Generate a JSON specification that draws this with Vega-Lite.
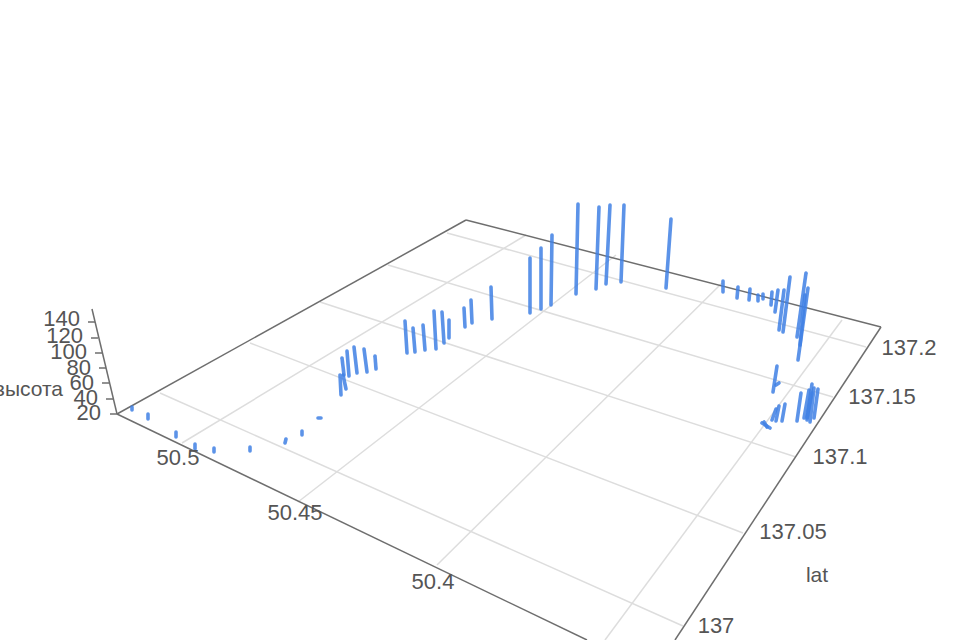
{"$schema":"https://vega.github.io/schema/vega-lite/v6.json","width":960,"height":640,"autosize":{"type":"none"},"padding":0,"background":"white","view":{"stroke":null},"config":{"font":"Liberation Sans"},"datasets":{"grid":[{"x":447,"y":233,"x2":866,"y2":347},{"x":388,"y":265,"x2":833,"y2":397},{"x":320,"y":302,"x2":796,"y2":457},{"x":250,"y":343,"x2":743,"y2":533},{"x":160,"y":393,"x2":683,"y2":626},{"x":182,"y":443,"x2":526,"y2":235},{"x":298,"y":502,"x2":616,"y2":255},{"x":437,"y":565,"x2":722,"y2":283},{"x":605,"y":640,"x2":842,"y2":320}],"axes":[{"x":466,"y":220,"x2":117,"y2":414},{"x":466,"y":220,"x2":881,"y2":327},{"x":117,"y":414,"x2":587,"y2":640},{"x":881,"y":327,"x2":675,"y2":640},{"x":92,"y":309,"x2":117,"y2":414},{"x":88,"y":322,"x2":95,"y2":322},{"x":91,"y":338,"x2":98,"y2":338},{"x":95,"y":353,"x2":102,"y2":353},{"x":99,"y":368,"x2":106,"y2":368},{"x":102,"y":383,"x2":109,"y2":383},{"x":106,"y":399,"x2":113,"y2":399},{"x":110,"y":414,"x2":117,"y2":414}],"bars":[{"x":132,"y":410,"x2":132,"y2":407},{"x":148,"y":414,"x2":148,"y2":419},{"x":176,"y":432,"x2":176,"y2":437},{"x":195,"y":444,"x2":195,"y2":449},{"x":214,"y":448,"x2":214,"y2":452},{"x":250,"y":447,"x2":250,"y2":451},{"x":286,"y":439,"x2":285,"y2":443},{"x":302,"y":431,"x2":302,"y2":435},{"x":318,"y":418,"x2":321,"y2":418},{"x":341,"y":395,"x2":340,"y2":375},{"x":346,"y":389,"x2":343,"y2":375},{"x":344,"y":375,"x2":342,"y2":358},{"x":349,"y":376,"x2":347,"y2":351},{"x":357,"y":373,"x2":354,"y2":347},{"x":367,"y":372,"x2":364,"y2":349},{"x":376,"y":369,"x2":375,"y2":356},{"x":407,"y":353,"x2":405,"y2":321},{"x":415,"y":352,"x2":413,"y2":328},{"x":425,"y":350,"x2":423,"y2":325},{"x":436,"y":349,"x2":434,"y2":311},{"x":444,"y":343,"x2":442,"y2":312},{"x":449,"y":338,"x2":449,"y2":320},{"x":465,"y":327,"x2":464,"y2":308},{"x":472,"y":323,"x2":471,"y2":300},{"x":492,"y":319,"x2":491,"y2":287},{"x":530,"y":313,"x2":530,"y2":258},{"x":541,"y":309,"x2":541,"y2":248},{"x":551,"y":305,"x2":552,"y2":235},{"x":576,"y":294,"x2":578,"y2":204},{"x":596,"y":289,"x2":599,"y2":207},{"x":606,"y":284,"x2":610,"y2":205},{"x":621,"y":282,"x2":624,"y2":205},{"x":666,"y":288,"x2":671,"y2":219},{"x":723,"y":292,"x2":723,"y2":281},{"x":737,"y":298,"x2":738,"y2":287},{"x":749,"y":300,"x2":750,"y2":289},{"x":758,"y":301,"x2":758,"y2":295},{"x":763,"y":299,"x2":763,"y2":294},{"x":771,"y":305,"x2":772,"y2":292},{"x":775,"y":312,"x2":778,"y2":290},{"x":779,"y":330,"x2":784,"y2":290},{"x":783,"y":332,"x2":790,"y2":277},{"x":797,"y":337,"x2":806,"y2":273},{"x":798,"y":360,"x2":808,"y2":288},{"x":800,"y":345,"x2":805,"y2":295},{"x":773,"y":392,"x2":777,"y2":366},{"x":776,"y":385,"x2":779,"y2":383},{"x":764,"y":422,"x2":767,"y2":427},{"x":762,"y":423,"x2":770,"y2":428},{"x":772,"y":420,"x2":776,"y2":409},{"x":776,"y":421,"x2":779,"y2":406},{"x":782,"y":421,"x2":785,"y2":404},{"x":797,"y":421,"x2":801,"y2":393},{"x":804,"y":418,"x2":809,"y2":390},{"x":807,"y":420,"x2":812,"y2":384},{"x":810,"y":422,"x2":814,"y2":388},{"x":814,"y":418,"x2":818,"y2":389},{"x":807,"y":418,"x2":812,"y2":393}],"labels":[{"x":80,"y":319,"t":"140","a":"right","s":22},{"x":83,"y":336,"t":"120","a":"right","s":22},{"x":87,"y":352,"t":"100","a":"right","s":22},{"x":91,"y":368,"t":"80","a":"right","s":22},{"x":94,"y":383,"t":"60","a":"right","s":22},{"x":98,"y":398,"t":"40","a":"right","s":22},{"x":101,"y":413,"t":"20","a":"right","s":22},{"x":63,"y":390,"t":"высота","a":"right","s":21},{"x":178,"y":458,"t":"50.5","a":"center","s":22},{"x":295,"y":513,"t":"50.45","a":"center","s":22},{"x":433,"y":582,"t":"50.4","a":"center","s":22},{"x":817,"y":576,"t":"lat","a":"center","s":21},{"x":909,"y":348,"t":"137.2","a":"center","s":22},{"x":882,"y":397,"t":"137.15","a":"center","s":22},{"x":840,"y":457,"t":"137.1","a":"center","s":22},{"x":793,"y":532,"t":"137.05","a":"center","s":22},{"x":716,"y":626,"t":"137","a":"center","s":22}]},"layer":[{"data":{"name":"grid"},"mark":{"type":"rule","stroke":"#dddddd","strokeWidth":1.5,"clip":true},"encoding":{"x":{"field":"x","type":"quantitative","scale":{"domain":[0,960]},"axis":null},"y":{"field":"y","type":"quantitative","scale":{"domain":[640,0]},"axis":null},"x2":{"field":"x2"},"y2":{"field":"y2"}}},{"data":{"name":"axes"},"mark":{"type":"rule","stroke":"#6e6e6e","strokeWidth":1.5,"clip":true},"encoding":{"x":{"field":"x","type":"quantitative","scale":{"domain":[0,960]},"axis":null},"y":{"field":"y","type":"quantitative","scale":{"domain":[640,0]},"axis":null},"x2":{"field":"x2"},"y2":{"field":"y2"}}},{"data":{"name":"bars"},"mark":{"type":"rule","stroke":"#4080e4","strokeWidth":3.6,"strokeCap":"round","opacity":0.85},"encoding":{"x":{"field":"x","type":"quantitative","scale":{"domain":[0,960]},"axis":null},"y":{"field":"y","type":"quantitative","scale":{"domain":[640,0]},"axis":null},"x2":{"field":"x2"},"y2":{"field":"y2"}}},{"data":{"name":"labels"},"transform":[{"filter":"datum.a=='right'"}],"mark":{"type":"text","align":"right","baseline":"middle","color":"#555555"},"encoding":{"x":{"field":"x","type":"quantitative","scale":{"domain":[0,960]},"axis":null},"y":{"field":"y","type":"quantitative","scale":{"domain":[640,0]},"axis":null},"text":{"field":"t"},"size":{"field":"s","type":"quantitative","scale":null,"legend":null}}},{"data":{"name":"labels"},"transform":[{"filter":"datum.a=='center'"}],"mark":{"type":"text","align":"center","baseline":"middle","color":"#555555"},"encoding":{"x":{"field":"x","type":"quantitative","scale":{"domain":[0,960]},"axis":null},"y":{"field":"y","type":"quantitative","scale":{"domain":[640,0]},"axis":null},"text":{"field":"t"},"size":{"field":"s","type":"quantitative","scale":null,"legend":null}}}]}
